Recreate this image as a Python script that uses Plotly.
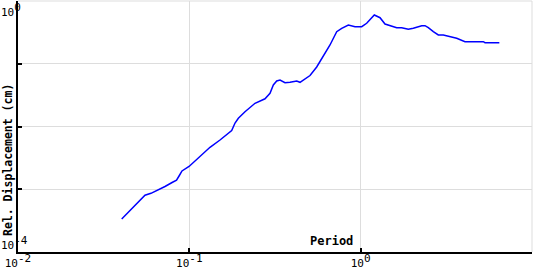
import plotly.graph_objects as go

period = [0.0403, 0.0451, 0.0515, 0.0551, 0.0597, 0.0656, 0.0721, 0.0793, 0.0842, 0.0871,
          0.0906, 0.0996, 0.1154, 0.1320, 0.1510, 0.1637, 0.1767, 0.1848, 0.1932, 0.2113,
          0.2417, 0.2765, 0.2957, 0.3092, 0.3236, 0.3383, 0.3618, 0.3869, 0.4234, 0.4426,
          0.4733, 0.5062, 0.5539, 0.6028, 0.6622, 0.7246, 0.7750, 0.8473, 0.9269, 1.014,
          1.084, 1.201, 1.297, 1.387, 1.518, 1.623, 1.736, 1.897, 2.029, 2.161,
          2.272, 2.375, 2.482, 2.655, 2.839, 3.036, 3.322, 3.635, 4.064, 5.198,
          5.318, 6.447]
displacement = [3.36e-4, 4.59e-4, 6.74e-4, 8.04e-4, 8.62e-4, 9.73e-4, 1.106e-3, 1.281e-3, 1.394e-3, 1.626e-3,
                1.954e-3, 2.304e-3, 3.302e-3, 4.662e-3, 6.094e-3, 7.19e-3, 8.64e-3, 1.137e-2, 1.351e-2, 1.721e-2,
                2.343e-2, 2.763e-2, 3.382e-2, 4.586e-2, 5.31e-2, 5.508e-2, 4.989e-2, 5.063e-2, 5.31e-2, 5.063e-2,
                5.651e-2, 6.497e-2, 8.875e-2, 0.1329, 0.1990, 0.3242, 0.3672, 0.4145, 0.3895, 0.3895,
                0.4412, 0.5982, 0.5418, 0.4300, 0.3996, 0.3754, 0.3754, 0.3540, 0.3672, 0.3924,
                0.4040, 0.4040, 0.3754, 0.3242, 0.2872, 0.2872, 0.2698, 0.2544, 0.2246, 0.2246,
                0.2165, 0.2165]

x_tickvals = [0.01, 0.1, 1, 10]
x_exponents = ["-2", "-1", "0", "1"]
y_tickvals = [1e-4, 1e-3, 1e-2, 1e-1, 1]
y_exp_top = "0"
y_exp_bottom = "-4"
x_title = "Period"
y_title = "Rel. Displacement (cm)"

MONO = "DejaVu Sans Mono"
GRID = "#dddddd"
TICK_SIZE = 11


def power_label(exp):
    return '10<sup><span style="font-size:%dpx">%s</span></sup>' % (TICK_SIZE, exp)


fig = go.Figure()
fig.add_trace(go.Scatter(x=period, y=displacement, mode="lines",
                         line=dict(color="#0000ff", width=1.5), showlegend=False))

fig.update_layout(
    width=540, height=270,
    margin=dict(l=18, r=8, t=1, b=18),
    paper_bgcolor="white", plot_bgcolor="white",
    font=dict(family=MONO, size=TICK_SIZE, color="black"),
    xaxis=dict(type="log", range=[-2, 1], tickvals=x_tickvals,
               ticktext=[power_label(e) for e in x_exponents],
               showgrid=True, gridcolor=GRID, gridwidth=1,
               showline=True, linecolor="black", linewidth=1.5,
               ticks="inside", ticklen=4, tickcolor="black", tickwidth=1.5,
               tickfont=dict(family=MONO, size=TICK_SIZE), zeroline=False),
    yaxis=dict(type="log", range=[-4, 0], tickvals=y_tickvals, showticklabels=False,
               showgrid=True, gridcolor=GRID, gridwidth=1,
               showline=True, linecolor="black", linewidth=1.5,
               ticks="inside", ticklen=4, tickcolor="black", tickwidth=1.5,
               zeroline=False),
    shapes=[
        dict(type="line", xref="paper", yref="paper", x0=0, x1=1, y0=1, y1=1,
             line=dict(color=GRID, width=1), layer="below"),
        dict(type="line", xref="paper", yref="paper", x0=1, x1=1, y0=0, y1=1,
             line=dict(color=GRID, width=1), layer="below"),
    ],
)

annos = [
    dict(text=power_label(y_exp_top), xref="paper", yref="paper", x=-18 / 514, y=1,
         xanchor="left", yanchor="top", xshift=-1, yshift=2, showarrow=False,
         font=dict(family=MONO, size=TICK_SIZE)),
    dict(text=power_label(y_exp_bottom), xref="paper", yref="paper", x=-18 / 514, y=0,
         xanchor="left", yanchor="bottom", xshift=-1, yshift=-2, showarrow=False,
         font=dict(family=MONO, size=TICK_SIZE)),
    dict(text="<b>" + x_title + "</b>", xref="paper", yref="paper", x=(331 - 18) / 514, y=0,
         xanchor="center", yanchor="bottom", yshift=2, showarrow=False, font=dict(family=MONO, size=12)),
    dict(text="<b>" + y_title + "</b>", xref="paper", yref="paper", x=(8 - 18) / 514,
         y=(252 - 160) / 251, xanchor="center", yanchor="middle", textangle=-90,
         showarrow=False, font=dict(family=MONO, size=11.5)),
]
fig.update_layout(annotations=annos)

fig.write_html("out.html")
